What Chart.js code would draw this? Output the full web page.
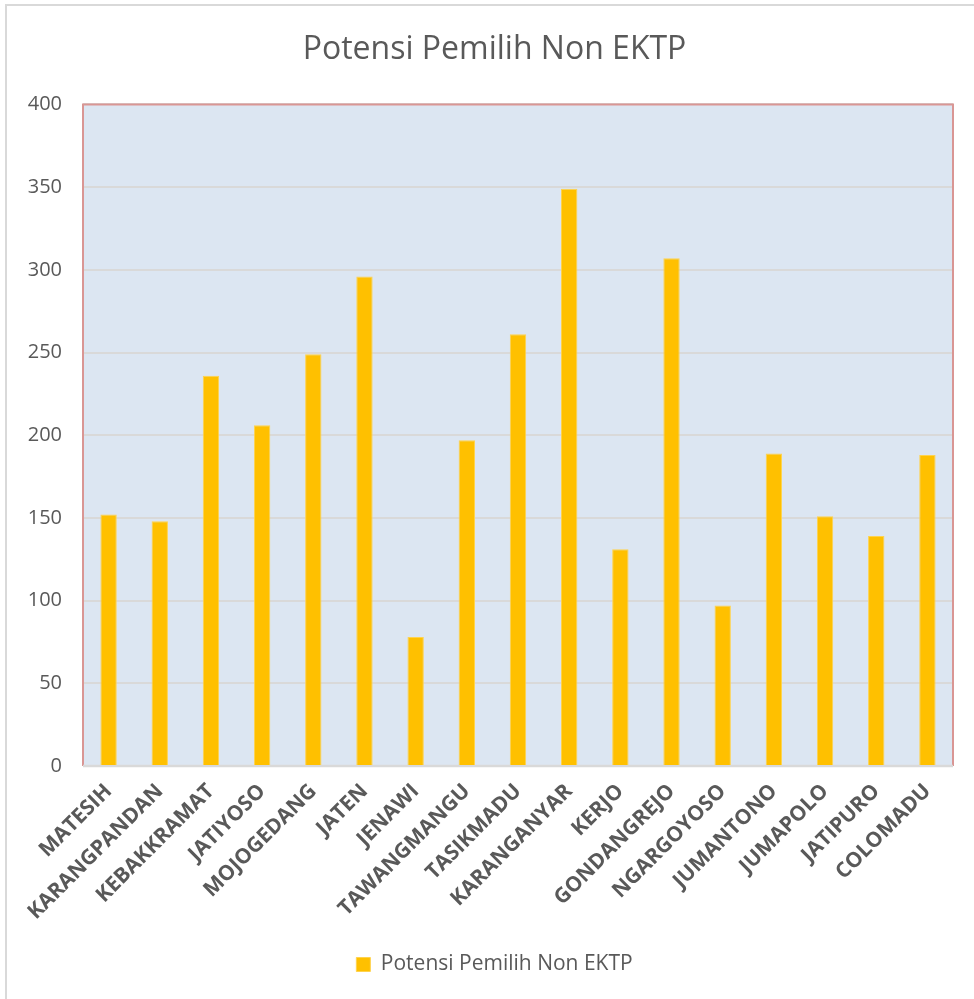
<!DOCTYPE html>
<html>
<head>
<meta charset="utf-8">
<script src="https://cdn.jsdelivr.net/npm/chart.js@4"></script>
<style>
  html, body { margin: 0; padding: 0; background: #ffffff; }
  #wrap { position: relative; width: 974px; height: 999px; }
</style>
</head>
<body>
<div id="wrap"><canvas id="chart" width="974" height="999"></canvas></div>
<script>
// Kecamatan (districts) and the number of potential voters without an e-KTP
const kecamatan = [
  'MATESIH', 'KARANGPANDAN', 'KEBAKKRAMAT', 'JATIYOSO', 'MOJOGEDANG', 'JATEN',
  'JENAWI', 'TAWANGMANGU', 'TASIKMADU', 'KARANGANYAR', 'KERJO', 'GONDANGREJO',
  'NGARGOYOSO', 'JUMANTONO', 'JUMAPOLO', 'JATIPURO', 'COLOMADU'
];
const pemilihNonEktp = [152, 148, 236, 206, 249, 296, 78, 197, 261, 349, 131, 307, 97, 189, 151, 139, 188];
const seriesName = 'Potensi Pemilih Non EKTP';
const chartTitle = 'Potensi Pemilih Non EKTP';
const yTicks = [0, 50, 100, 150, 200, 250, 300, 350, 400];

const textColor = '#595959';
const fontFamily = '"Open Sans", "Liberation Sans", sans-serif';

// Plot-area fill, frame and the outer card edge
const framePlugin = {
  id: 'frame',
  beforeDraw(chart) {
    const { ctx, chartArea: a } = chart;
    ctx.save();
    ctx.fillStyle = '#dce6f2';
    ctx.fillRect(a.left, a.top, a.right - a.left, a.bottom - a.top);
    // outer card edge (left and top visible)
    ctx.strokeStyle = '#d9d9d9';
    ctx.lineWidth = 2;
    ctx.beginPath();
    ctx.moveTo(6, chart.height);
    ctx.lineTo(6, 5);
    ctx.lineTo(chart.width, 5);
    ctx.stroke();
    ctx.restore();
  },
  beforeDatasetsDraw(chart) {
    const { ctx, chartArea: a } = chart;
    ctx.save();
    ctx.strokeStyle = '#d99694';
    ctx.lineWidth = 2;
    ctx.beginPath();
    ctx.moveTo(a.left, a.bottom);
    ctx.lineTo(a.left, a.top);
    ctx.lineTo(a.right, a.top);
    ctx.lineTo(a.right, a.bottom);
    ctx.stroke();
    ctx.strokeStyle = '#d9d9d9';
    ctx.lineWidth = 2.5;
    ctx.beginPath();
    ctx.moveTo(a.left, a.bottom);
    ctx.lineTo(a.right, a.bottom);
    ctx.stroke();
    ctx.restore();
  }
};

new Chart(document.getElementById('chart'), {
  type: 'bar',
  data: {
    labels: kecamatan,
    datasets: [{
      label: seriesName,
      data: pemilihNonEktp,
      backgroundColor: '#ffc000',
      borderColor: '#ffd34d',
      borderWidth: 1,
      categoryPercentage: 1,
      barPercentage: 0.32
    }]
  },
  options: {
    responsive: false,
    animation: false,
    devicePixelRatio: 1,
    layout: { padding: { left: 36, right: 21, top: 0, bottom: 14 } },
    plugins: {
      title: {
        display: true,
        text: chartTitle,
        color: textColor,
        font: { family: fontFamily, size: 32, weight: 'normal' },
        padding: { top: 31, bottom: 35 }
      },
      legend: {
        position: 'bottom',
        labels: {
          color: textColor,
          font: { family: fontFamily, size: 21 },
          boxWidth: 14,
          boxHeight: 14,
          padding: 10
        }
      },
      tooltip: { enabled: false }
    },
    scales: {
      x: {
        grid: { display: false, drawTicks: false },
        border: { display: false },
        ticks: {
          color: textColor,
          font: { family: fontFamily, size: 21, weight: 'bold' },
          minRotation: 45,
          maxRotation: 45,
          padding: 13,
          autoSkip: false
        },
        afterFit(scale) { scale.height = 178; }
      },
      y: {
        min: 0,
        max: 400,
        afterBuildTicks(scale) { scale.ticks = yTicks.map(v => ({ value: v })); },
        grid: { color: '#d9d9d9', lineWidth: 2, drawTicks: false },
        border: { display: false },
        ticks: {
          color: textColor,
          font: { family: fontFamily, size: 20 },
          padding: 21
        },
        afterFit(scale) {
          scale.width = 47;
          // let the tick labels extend into the left margin
          scale._computeLabelArea = () => undefined;
        }
      }
    }
  },
  plugins: [framePlugin]
});
</script>
</body>
</html>
